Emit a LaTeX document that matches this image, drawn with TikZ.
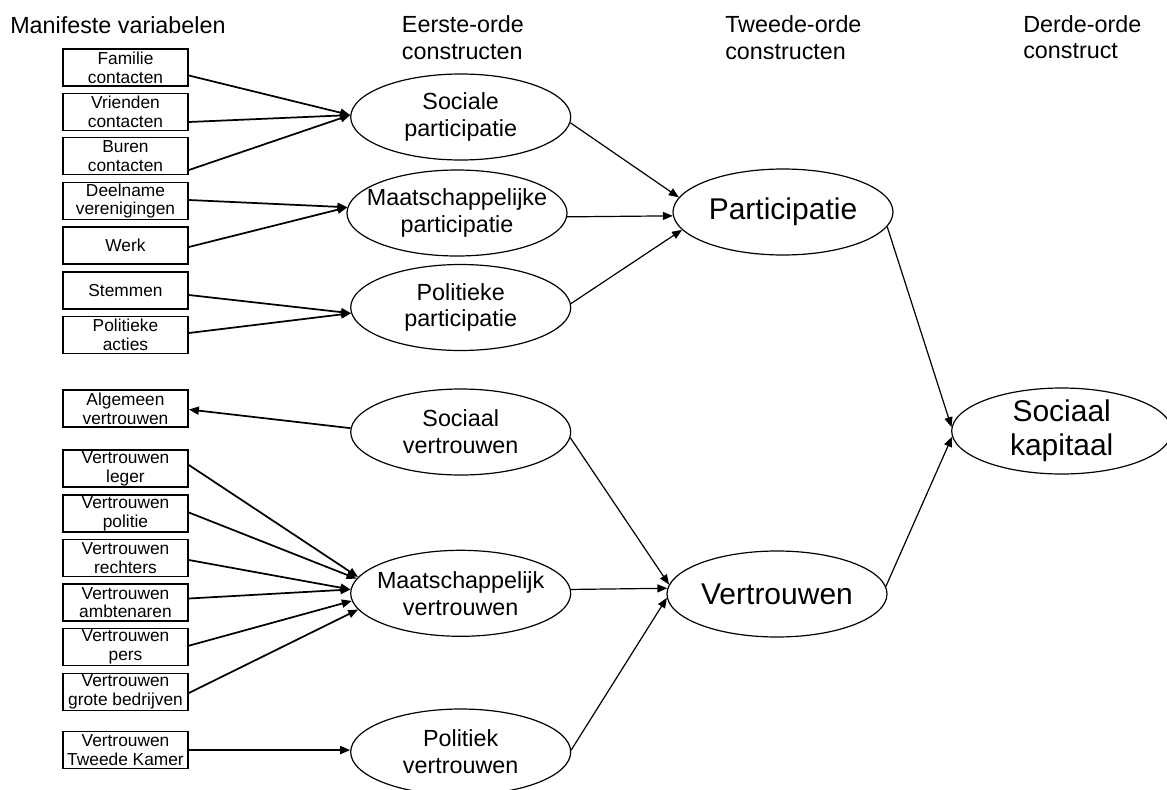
\documentclass[tikz,border=0pt]{standalone}
\usepackage{fontspec}
\setmainfont{Liberation Sans}
\usetikzlibrary{shapes.geometric,arrows.meta,calc}
\begin{document}
\begin{tikzpicture}[x=0.75pt,y=-0.75pt,
  box/.style={draw, line width=1.3pt, rectangle, minimum width=93.75pt, minimum height=27.75pt,
    inner sep=0pt, align=center, font=\fontsize{13}{14}\selectfont},
  ell/.style={draw, line width=0.9pt, ellipse, minimum width=165pt, minimum height=64.5pt, inner sep=0pt},
  lbl/.style={align=center, font=\fontsize{17.5}{20.1}\selectfont, inner sep=0pt},
  big/.style={align=center, font=\fontsize{22.5}{25.5}\selectfont, inner sep=0pt},
  hdr/.style={font=\fontsize{17.5}{20.1}\selectfont, inner sep=0pt, anchor=base west},
  arr/.style={-{Triangle[length=7.5pt,width=6pt]}, line width=1.3pt},
  arrt/.style={-{Triangle[length=7.5pt,width=6pt]}, line width=0.9pt},
]
\useasboundingbox (0,0) rectangle (1167,789);

% headers
\node[hdr] (h1) at (10,33) {Manifeste variabelen};
\node[hdr] (h2a) at (401.7,32.3) {Eerste-orde};
\node[hdr] (h2b) at (401.7,59.5) {constructen};
\node[hdr] (h3a) at (725,32.3) {Tweede-orde};
\node[hdr] (h3b) at (725,59) {constructen};
\node[hdr] (h4a) at (1023,32.3) {Derde-orde};
\node[hdr] (h4b) at (1023,58.5) {construct};

% manifest variables
\node[box] (fam) at (125.5,67.5) {Familie\\contacten};
\node[box] (vri) at (125.5,112) {Vrienden\\contacten};
\node[box] (bur) at (125.5,156) {Buren\\contacten};
\node[box] (dee) at (125.5,201) {Deelname\\verenigingen};
\node[box] (werk) at (125.5,245.5) {Werk};
\node[box] (stem) at (125.5,290.5) {Stemmen};
\node[box] (pol) at (125.5,335) {Politieke\\acties};
\node[box] (alg) at (125.5,408.5) {Algemeen\\vertrouwen};
\node[box] (leg) at (125.5,468.5) {Vertrouwen\\leger};
\node[box] (polt) at (125.5,513.5) {Vertrouwen\\politie};
\node[box] (rech) at (125.5,558) {Vertrouwen\\rechters};
\node[box] (amb) at (125.5,602.5) {Vertrouwen\\ambtenaren};
\node[box] (pers) at (125.5,647) {Vertrouwen\\pers};
\node[box] (grb) at (125.5,692) {Vertrouwen\\grote bedrijven};
\node[box] (tk) at (125.5,750) {Vertrouwen\\Tweede Kamer};

% first-order constructs
\node[ell, label={[lbl]center:Sociale\\participatie}] (sp) at (460.7,117) {};
\node[ell, label={[lbl]center:Maatschappelijke\\participatie}] (mp) at (457,213) {};
\node[ell, label={[lbl]center:Politieke\\participatie}] (pp) at (460.7,307.5) {};
\node[ell, label={[lbl]center:Sociaal\\vertrouwen}] (sv) at (460.7,432) {};
\node[ell, label={[lbl]center:Maatschappelijk\\vertrouwen}] (mv) at (460.7,593.3) {};
\node[ell, label={[lbl]center:Politiek\\vertrouwen}] (pv) at (460.7,752) {};

% second-order constructs
\node[ell, label={[big]center:Participatie}] (P) at (783,212) {};
\node[ell, label={[big]center:Vertrouwen}] (V) at (777,594) {};

% third-order construct
\node[ell, label={[big]center:Sociaal\\kapitaal}] (SK) at (1061.7,431) {};

% connectors: manifest -> first order
\draw[arr] ($(fam.east)+(0,8)$) -- (sp.179);
\draw[arr] ($(vri.east)+(0,10)$) -- (sp.179);
\draw[arr] ($(bur.east)+(0,14)$) -- (sp.179);
\draw[arr] ($(dee.east)+(0,-1)$) -- (mp.177);
\draw[arr] ($(werk.east)+(0,1.5)$) -- (mp.177);
\draw[arr] ($(stem.east)+(0,4.5)$) -- (pp.183);
\draw[arr] ($(pol.east)+(0,-2)$) -- (pp.183);
\draw[arr] (sv.178) -- ($(alg.east)+(0,1)$);
\draw[arr] ($(leg.east)+(0,-3.5)$) -- (mv.171);
\draw[arr] ($(polt.east)+(0,-1)$) -- (mv.172);
\draw[arr] ($(rech.east)+(0,2)$) -- (mv.178);
\draw[arr] ($(amb.east)+(0,-4)$) -- (mv.178);
\draw[arr] ($(pers.east)+(0,-1.3)$) -- (mv.184);
\draw[arr] ($(grb.east)+(0,1)$) -- (mv.189);
\draw[arr] (tk.east) -- (pv.179);

% first order -> second order
\draw[arrt] (sp.357.6) -- (P.172);
\draw[arrt] (mp.358) -- (P.182.5);
\draw[arrt] (pp.2) -- (P.190);
\draw[arrt] (sv.357.6) -- (V.175);
\draw[arrt] (mv.2.6) -- (V.177);
\draw[arrt] (pv.1) -- (V.182);

% second order -> third order
\draw[arrt] (P.352) -- (SK.178);
\draw[arrt] (V.4) -- (SK.183);
\end{tikzpicture}
\end{document}
